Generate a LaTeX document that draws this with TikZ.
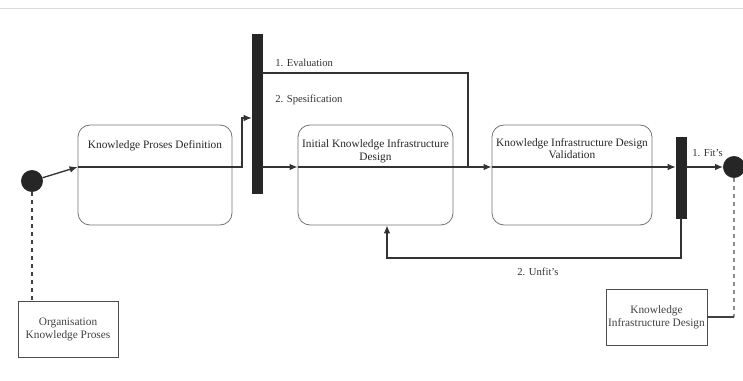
\documentclass[tikz,border=0pt]{standalone}
\usepackage{fontspec}
\setmainfont{Liberation Serif}
\usetikzlibrary{arrows.meta}

\begin{document}
\begin{tikzpicture}[x=0.75pt,y=0.75pt,yscale=-1,xscale=1,
  actbox/.style={draw=black!55, line width=0.6pt, rounded corners=9pt, minimum height=75pt, inner sep=0pt},
  acttext/.style={font=\fontsize{8.5}{9.5}\selectfont, align=center, inner sep=0pt, text=black!85},
  notebox/.style={draw=black!70, line width=0.6pt, minimum width=75pt, minimum height=41.5pt, inner sep=0pt, font=\fontsize{8.5}{9.5}\selectfont, align=center, text=black!75},
  barnode/.style={draw=black!85, fill=black!85, minimum width=7.5pt, inner sep=0pt},
  dotnode/.style={circle, draw=black!85, fill=black!85, minimum size=16pt, inner sep=0pt},
  flow/.style={draw=black!80, line width=1pt, -{Latex[length=6pt,width=5pt]}},
  plainline/.style={draw=black!80, line width=1pt},
  smalllbl/.style={font=\fontsize{8}{9}\selectfont, inner sep=0pt, text=black!80}]
%set diagram size to the reference
\useasboundingbox (0,0) rectangle (743,381);
\draw [black!15, line width=0.4pt] (0,8) -- (743,8);

%Start and end
\node [dotnode] (start) at (32,181) {};
\node [dotnode] (finish) at (734,167) {};

%Activities
\node [actbox, minimum width=115.5pt,
  label={[acttext, anchor=north, yshift=-12pt]north:Knowledge Proses Definition}] (defn) at (155,175) {};
\node [actbox, minimum width=116.25pt,
  label={[acttext, anchor=north, yshift=-11pt]north:Initial Knowledge Infrastructure\\Design}] (init) at (375.5,175) {};
\node [actbox, minimum width=120pt,
  label={[acttext, anchor=north, yshift=-10pt]north:Knowledge Infrastructure Design\\Validation}] (valid) at (572,175) {};

%Fork and join bars
\node [barnode, minimum height=119pt] (fork) at (257,113.5) {};
\node [barnode, minimum height=61pt] (join) at (681,177.5) {};

%Objects
\node [notebox] (org) at (68,329.5) {Organisation\\Knowledge Proses};
\node [notebox, minimum width=75.75pt, minimum height=42pt] (infra) at (656.5,317) {Knowledge\\Infrastructure Design};

%Helper points
\coordinate (flowy) at (0,167);
\coordinate (bend1) at (242,118);
\coordinate (merge) at (468,167);
\coordinate (ret) at (387,258);

%Connectors
\draw [flow] (start) -- (defn.west |- flowy);
\draw [flow] (defn.west |- flowy) -- (defn.east |- flowy) -| (bend1) -- (fork.west |- bend1);
\draw [flow] (fork.east |- flowy) -- (init.west |- flowy);
\draw [plainline] (fork.east |- 0,73) -| (merge);
\draw [flow] (init.west |- flowy) -- (init.east |- flowy) -- (valid.west |- flowy);
\draw [flow] (valid.west |- flowy) -- (valid.east |- flowy) -- (join.west |- flowy);
\draw [flow] (join.east |- flowy) -- (finish);
\draw [flow] (join.south) |- (ret) -- (ret |- init.south);
\draw [black!75, line width=0.8pt, dashed] (start) -- (start |- org.north);
\draw [black!45, line width=0.8pt, dashed] (finish) -- (finish |- infra.east);
\draw [black!75, line width=0.8pt] (finish |- infra.east) -- (infra.east);

% Text Node
\node [smalllbl, anchor=west] (lblEval) at (275,63) {1. Evaluation};
% Text Node
\node [smalllbl, anchor=west] (lblSpec) at (275,100) {2. Spesification};
% Text Node
\node [smalllbl, anchor=west] (lblFit) at (692,153) {1. Fit's};
% Text Node
\node [smalllbl] (lblUnfit) at (538,272) {2. Unfit's};

\end{tikzpicture}
\end{document}
